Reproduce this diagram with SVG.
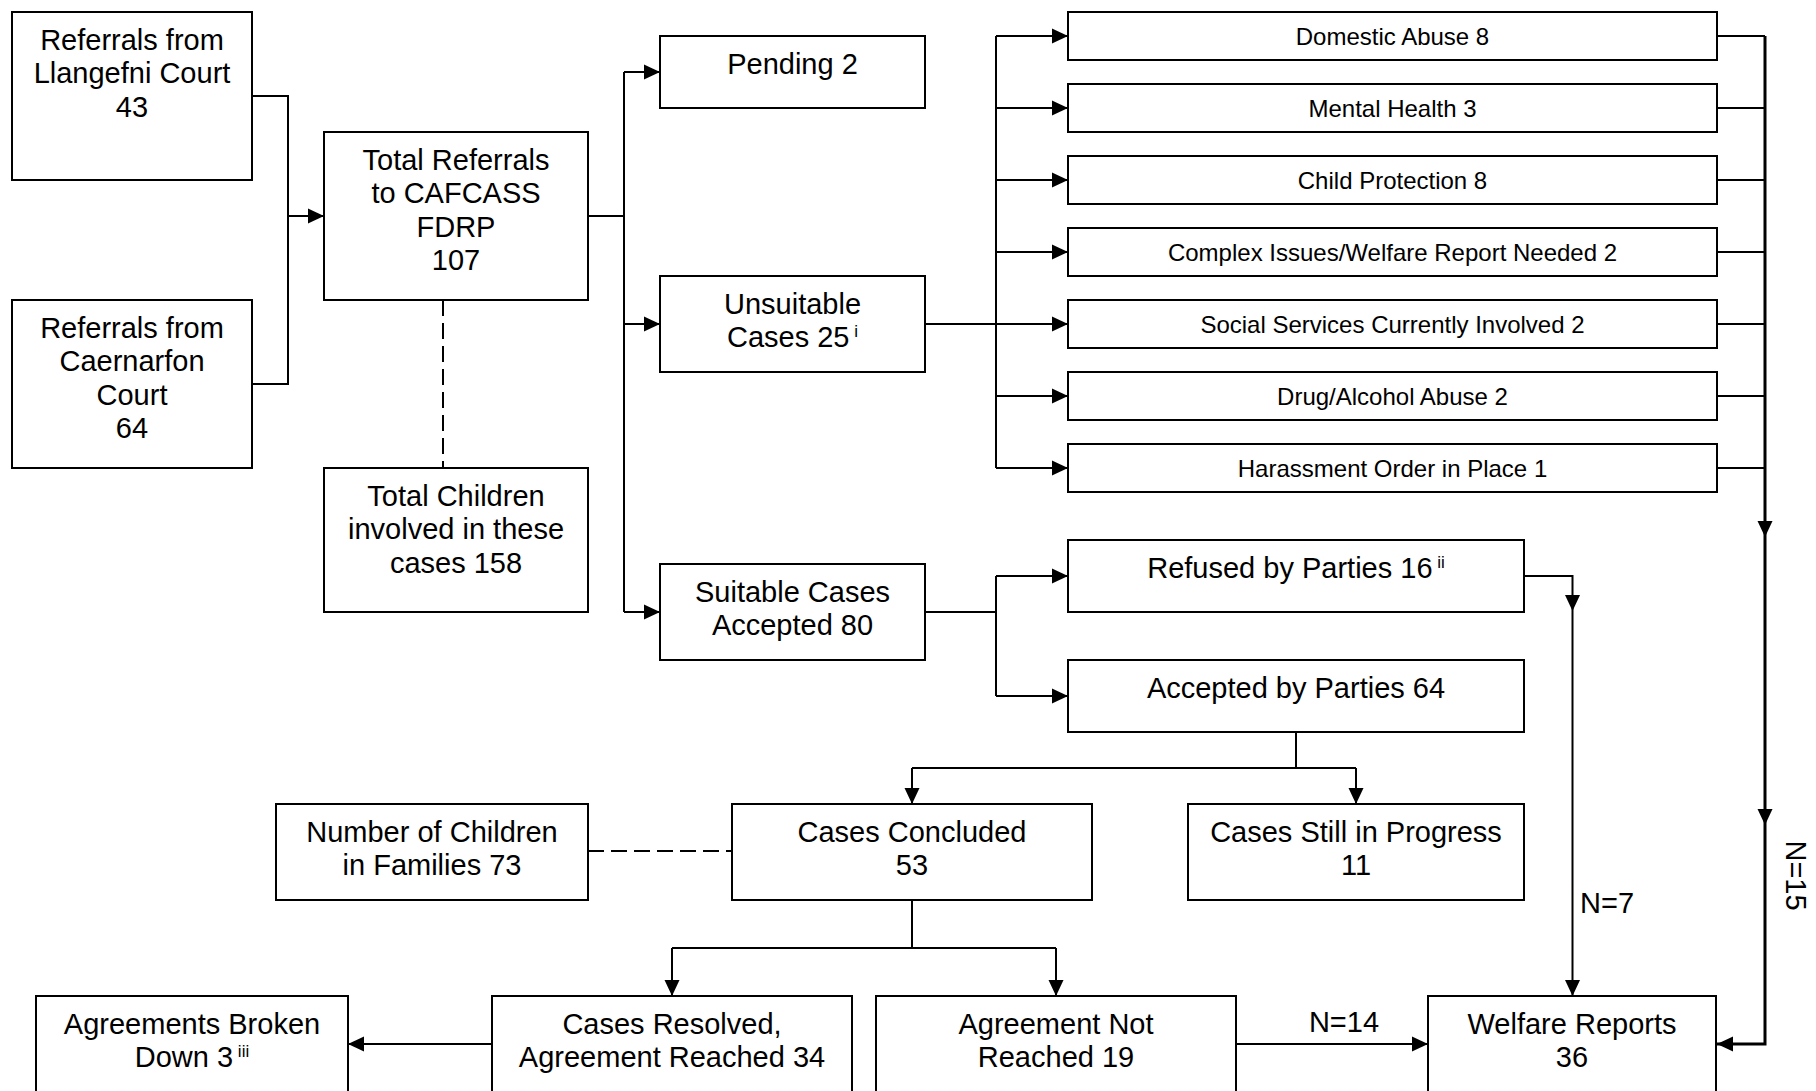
<svg xmlns="http://www.w3.org/2000/svg" width="1816" height="1091" viewBox="0 0 1816 1091">
<style>
.box{fill:#fff;stroke:#000;stroke-width:2}
.t{font-family:"Liberation Sans",Arial,sans-serif;font-size:29px;fill:#000;text-anchor:middle}
.s{font-family:"Liberation Sans",Arial,sans-serif;font-size:24px;fill:#000;text-anchor:middle}
.sup{font-size:17px}
.c{fill:none;stroke:#000;stroke-width:2}
.a{marker-end:url(#ah)}
.thick{stroke-width:3}
.d{fill:none;stroke:#000;stroke-width:2;stroke-dasharray:16 7}
.lbl{font-family:"Liberation Sans",Arial,sans-serif;font-size:29px;fill:#000}
</style>
<defs>
<marker id="ah" markerUnits="userSpaceOnUse" markerWidth="16" markerHeight="16" viewBox="0 0 16 16" refX="16" refY="8" orient="auto">
<path d="M0 0.5 L16 8 L0 15.5 Z" fill="#000"/>
</marker>
</defs>
<rect width="1816" height="1091" fill="#fff"/>

<g id="connectors">
<path class="c" d="M252 96 H288 V384 H252"/>
<path class="c a" d="M288 216 H324"/>
<path class="c" d="M588 216 H624"/>
<path class="c" d="M624 72 V612"/>
<path class="c a" d="M624 72 H660"/>
<path class="c a" d="M624 324 H660"/>
<path class="c a" d="M624 612 H660"/>
<path class="c" d="M925 324 H996"/>
<path class="c" d="M996 36 V468"/>
<path class="c a" d="M996 36 H1068"/>
<path class="c a" d="M996 108 H1068"/>
<path class="c a" d="M996 180 H1068"/>
<path class="c a" d="M996 252 H1068"/>
<path class="c a" d="M996 324 H1068"/>
<path class="c a" d="M996 396 H1068"/>
<path class="c a" d="M996 468 H1068"/>
<path class="c" d="M1717 36 H1765 M1717 108 H1765 M1717 180 H1765 M1717 252 H1765 M1717 324 H1765 M1717 396 H1765 M1717 468 H1765"/>
<path class="c a thick" d="M1765 36 V537"/>
<path class="c a thick" d="M1765 537 V825"/>
<path class="c a thick" d="M1765 825 V1044 H1717"/>
<path class="c" d="M925 612 H996 M996 576 V696"/>
<path class="c a" d="M996 576 H1068"/>
<path class="c a" d="M996 696 H1068"/>
<path class="c a" d="M1524 576 H1572.5 V611"/>
<path class="c a" d="M1572.5 611 V996"/>
<path class="c" d="M1296 732 V768 M912 768 H1356"/>
<path class="c a" d="M912 768 V804"/>
<path class="c a" d="M1356 768 V804"/>
<path class="c" d="M912 900 V948 M672 948 H1056"/>
<path class="c a" d="M672 948 V996"/>
<path class="c a" d="M1056 948 V996"/>
<path class="c a" d="M492 1044 H348"/>
<path class="c a" d="M1236 1044 H1428"/>
<path class="d" d="M443 300 V468"/>
<path class="d" d="M588 851 H732"/>
<text class="lbl" x="1580" y="913">N=7</text>
<text class="lbl" x="1344" y="1032" text-anchor="middle">N=14</text>
<text class="lbl" text-anchor="middle" transform="translate(1786 875.5) rotate(90)">N=15</text>
</g>

<g id="llangefni">
<rect class="box" x="12" y="12" width="240" height="168"/>
<text class="t"><tspan x="132" y="50">Referrals from</tspan><tspan x="132" y="83.3">Llangefni Court</tspan><tspan x="132" y="116.6">43</tspan></text>
</g>
<g id="caernarfon">
<rect class="box" x="12" y="300" width="240" height="168"/>
<text class="t"><tspan x="132" y="338">Referrals from</tspan><tspan x="132" y="371.3">Caernarfon</tspan><tspan x="132" y="404.6">Court</tspan><tspan x="132" y="438">64</tspan></text>
</g>
<g id="total">
<rect class="box" x="324" y="132" width="264" height="168"/>
<text class="t"><tspan x="456" y="170">Total Referrals</tspan><tspan x="456" y="203.3">to CAFCASS</tspan><tspan x="456" y="236.6">FDRP</tspan><tspan x="456" y="270">107</tspan></text>
</g>
<g id="children">
<rect class="box" x="324" y="468" width="264" height="144"/>
<text class="t"><tspan x="456" y="506">Total Children</tspan><tspan x="456" y="539.3">involved in these</tspan><tspan x="456" y="572.6">cases 158</tspan></text>
</g>
<g id="pending">
<rect class="box" x="660" y="36" width="265" height="72"/>
<text class="t" x="792.5" y="74">Pending 2</text>
</g>
<g id="unsuitable">
<rect class="box" x="660" y="276" width="265" height="96"/>
<text class="t"><tspan x="792.5" y="314">Unsuitable</tspan><tspan x="792.5" y="347.3">Cases 25<tspan class="sup" dy="-10"> i</tspan></tspan></text>
</g>
<g id="suitable">
<rect class="box" x="660" y="564" width="265" height="96"/>
<text class="t"><tspan x="792.5" y="602">Suitable Cases</tspan><tspan x="792.5" y="635.3">Accepted 80</tspan></text>
</g>
<g id="cat-domestic">
<rect class="box" x="1068" y="12" width="649" height="48"/>
<text class="s" x="1392.5" y="45">Domestic Abuse 8</text>
</g>
<g id="cat-mental">
<rect class="box" x="1068" y="84" width="649" height="48"/>
<text class="s" x="1392.5" y="117">Mental Health 3</text>
</g>
<g id="cat-child">
<rect class="box" x="1068" y="156" width="649" height="48"/>
<text class="s" x="1392.5" y="189">Child Protection 8</text>
</g>
<g id="cat-complex">
<rect class="box" x="1068" y="228" width="649" height="48"/>
<text class="s" x="1392.5" y="261">Complex Issues/Welfare Report Needed 2</text>
</g>
<g id="cat-social">
<rect class="box" x="1068" y="300" width="649" height="48"/>
<text class="s" x="1392.5" y="333">Social Services Currently Involved 2</text>
</g>
<g id="cat-drug">
<rect class="box" x="1068" y="372" width="649" height="48"/>
<text class="s" x="1392.5" y="405">Drug/Alcohol Abuse 2</text>
</g>
<g id="cat-harassment">
<rect class="box" x="1068" y="444" width="649" height="48"/>
<text class="s" x="1392.5" y="477">Harassment Order in Place 1</text>
</g>
<g id="refused">
<rect class="box" x="1068" y="540" width="456" height="72"/>
<text class="t" x="1296" y="578">Refused by Parties 16<tspan class="sup" dy="-10"> ii</tspan></text>
</g>
<g id="accepted">
<rect class="box" x="1068" y="660" width="456" height="72"/>
<text class="t" x="1296" y="698">Accepted by Parties 64</text>
</g>
<g id="numchildren">
<rect class="box" x="276" y="804" width="312" height="96"/>
<text class="t"><tspan x="432" y="842">Number of Children</tspan><tspan x="432" y="875.3">in Families 73</tspan></text>
</g>
<g id="concluded">
<rect class="box" x="732" y="804" width="360" height="96"/>
<text class="t"><tspan x="912" y="842">Cases Concluded</tspan><tspan x="912" y="875.3">53</tspan></text>
</g>
<g id="still">
<rect class="box" x="1188" y="804" width="336" height="96"/>
<text class="t"><tspan x="1356" y="842">Cases Still in Progress</tspan><tspan x="1356" y="875.3">11</tspan></text>
</g>
<g id="broken">
<rect class="box" x="36" y="996" width="312" height="110"/>
<text class="t"><tspan x="192" y="1034">Agreements Broken</tspan><tspan x="192" y="1067.3">Down 3<tspan class="sup" dy="-10"> iii</tspan></tspan></text>
</g>
<g id="resolved">
<rect class="box" x="492" y="996" width="360" height="110"/>
<text class="t"><tspan x="672" y="1034">Cases Resolved,</tspan><tspan x="672" y="1067.3">Agreement Reached 34</tspan></text>
</g>
<g id="notreached">
<rect class="box" x="876" y="996" width="360" height="110"/>
<text class="t"><tspan x="1056" y="1034">Agreement Not</tspan><tspan x="1056" y="1067.3">Reached 19</tspan></text>
</g>
<g id="welfare">
<rect class="box" x="1428" y="996" width="288" height="110"/>
<text class="t"><tspan x="1572" y="1034">Welfare Reports</tspan><tspan x="1572" y="1067.3">36</tspan></text>
</g>
</svg>
